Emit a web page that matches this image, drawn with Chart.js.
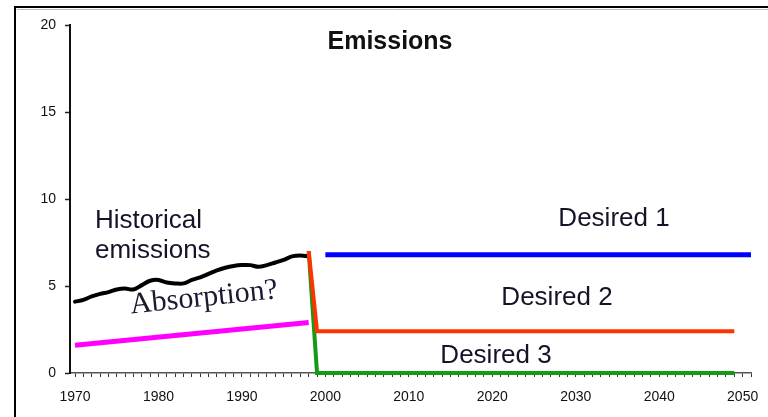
<!DOCTYPE html>
<html>
<head>
<meta charset="utf-8">
<script src="https://cdn.jsdelivr.net/npm/chart.js@4/dist/chart.umd.min.js"></script>
<style>
html,body{margin:0;padding:0;background:#fff;}
#wrap{width:768px;height:417px;position:relative;}
</style>
</head>
<body>
<div id="wrap"><canvas id="c" width="768" height="417"></canvas></div>
<script>
// ---- data ----
const histYears = [1970,1971,1972,1973,1974,1975,1976,1977,1978,1979,1980,1981,1982,1983,1984,1985,1986,1987,1988,1989,1990,1991,1992,1993,1994,1995,1996,1997,1998];
const histValues = [4.1,4.2,4.4,4.55,4.65,4.8,4.85,4.8,5.05,5.3,5.35,5.2,5.15,5.15,5.35,5.5,5.7,5.9,6.05,6.15,6.2,6.2,6.1,6.2,6.35,6.5,6.7,6.75,6.7];
const absorptionYears = [1970, 1998];
const absorptionValues = [1.6, 2.9];
const desired1Years = [2000, 2051];
const desired1Values = [6.8, 6.8];
const desired2Years = [1998, 1999, 2049];
const desired2Values = [7.0, 2.4, 2.4];
const desired3Years = [1998, 1999, 2049];
const desired3Values = [7.0, 0, 0];
const xTickYears = [];
for (let y = 1970; y <= 2051; y++) xTickYears.push(y);
const yTicks = [0, 5, 10, 15, 20];

const pts = (xs, ys) => xs.map((x, i) => ({x: x, y: ys[i]}));

const SANS = "'Liberation Sans', Arial, sans-serif";
const SERIF = "'Liberation Serif', 'Times New Roman', serif";

const annotations = {
  id: 'annotations',
  beforeDraw(chart) {
    const ctx = chart.ctx;
    ctx.save();
    ctx.strokeStyle = '#000';
    ctx.lineWidth = 2;
    ctx.beginPath();
    ctx.moveTo(15, 417);
    ctx.lineTo(15, 7);
    ctx.lineTo(768, 7);
    ctx.stroke();
    ctx.strokeStyle = '#bbb';
    ctx.lineWidth = 1;
    ctx.beginPath();
    ctx.moveTo(17, 9.5);
    ctx.lineTo(768, 9.5);
    ctx.stroke();
    ctx.restore();
  },
  afterDraw(chart) {
    const ctx = chart.ctx;
    ctx.save();
    ctx.fillStyle = '#111';
    ctx.textBaseline = 'middle';
    ctx.textAlign = 'center';
    ctx.font = "bold 25px " + SANS;
    ctx.fillText('Emissions', 390, 42);
    ctx.fillStyle = '#141428';
    ctx.font = "26px " + SANS;
    ctx.textAlign = 'left';
    ctx.fillText('Historical', 95, 221);
    ctx.fillText('emissions', 95, 251);
    ctx.textAlign = 'center';
    ctx.fillText('Desired 1', 614, 219);
    ctx.fillText('Desired 2', 557, 298);
    ctx.fillText('Desired 3', 496, 356);
    ctx.save();
    ctx.translate(204, 298);
    ctx.rotate(-6 * Math.PI / 180);
    ctx.font = "30px " + SERIF;
    ctx.fillStyle = '#1a1a30';
    ctx.fillText('Absorption?', 0, 0);
    ctx.restore();
    ctx.restore();
  }
};

new Chart(document.getElementById('c'), {
  type: 'line',
  data: {
    datasets: [
      {label: 'Absorption', data: pts(absorptionYears, absorptionValues), borderColor: '#ff00ff', borderWidth: 5, pointRadius: 0, borderCapStyle: 'butt'},
      {label: 'Desired 1', data: pts(desired1Years, desired1Values), borderColor: '#0000ff', borderWidth: 5, pointRadius: 0, borderCapStyle: 'butt'},
      {label: 'Desired 2', data: pts(desired2Years, desired2Values), borderColor: '#ff3300', borderWidth: 4, pointRadius: 0, borderCapStyle: 'butt'},
      {label: 'Desired 3', data: pts(desired3Years, desired3Values), borderColor: '#169a16', borderWidth: 4, pointRadius: 0, borderCapStyle: 'butt'},
      {label: 'Historical', data: pts(histYears, histValues), borderColor: '#000', borderWidth: 4, pointRadius: 0, tension: 0.35, borderCapStyle: 'round'}
    ]
  },
  options: {
    responsive: false,
    animation: false,
    clip: false,
    layout: {padding: {top: 25, right: 17, left: 0, bottom: 0}},
    plugins: {legend: {display: false}, tooltip: {enabled: false}, title: {display: false}},
    scales: {
      x: {
        type: 'linear',
        min: 1969.4,
        max: 2051,
        afterBuildTicks(scale) { scale.ticks = xTickYears.map(v => ({value: v})); },
        afterFit(scale) { scale.height = 44; },
        ticks: {
          autoSkip: false, maxRotation: 0, padding: 12,
          color: '#111',
          font: {family: SANS, size: 14},
          callback: (v) => (v % 10 === 0 && v <= 2050) ? String(v) : ''
        },
        grid: {drawOnChartArea: false, drawTicks: true, tickLength: 4, tickColor: '#333', tickWidth: 1},
        border: {display: true, color: '#555', width: 1.5}
      },
      y: {
        min: 0,
        max: 20,
        afterBuildTicks(scale) { scale.ticks = yTicks.map(v => ({value: v})); },
        afterFit(scale) { scale.width = 70; },
        ticks: {
          padding: 9,
          color: '#111',
          font: {family: SANS, size: 14}
        },
        grid: {drawOnChartArea: false, drawTicks: true, tickLength: 5, tickColor: '#222', tickWidth: 1.5},
        border: {display: true, color: '#111', width: 2}
      }
    }
  },
  plugins: [annotations]
});
</script>
</body>
</html>
